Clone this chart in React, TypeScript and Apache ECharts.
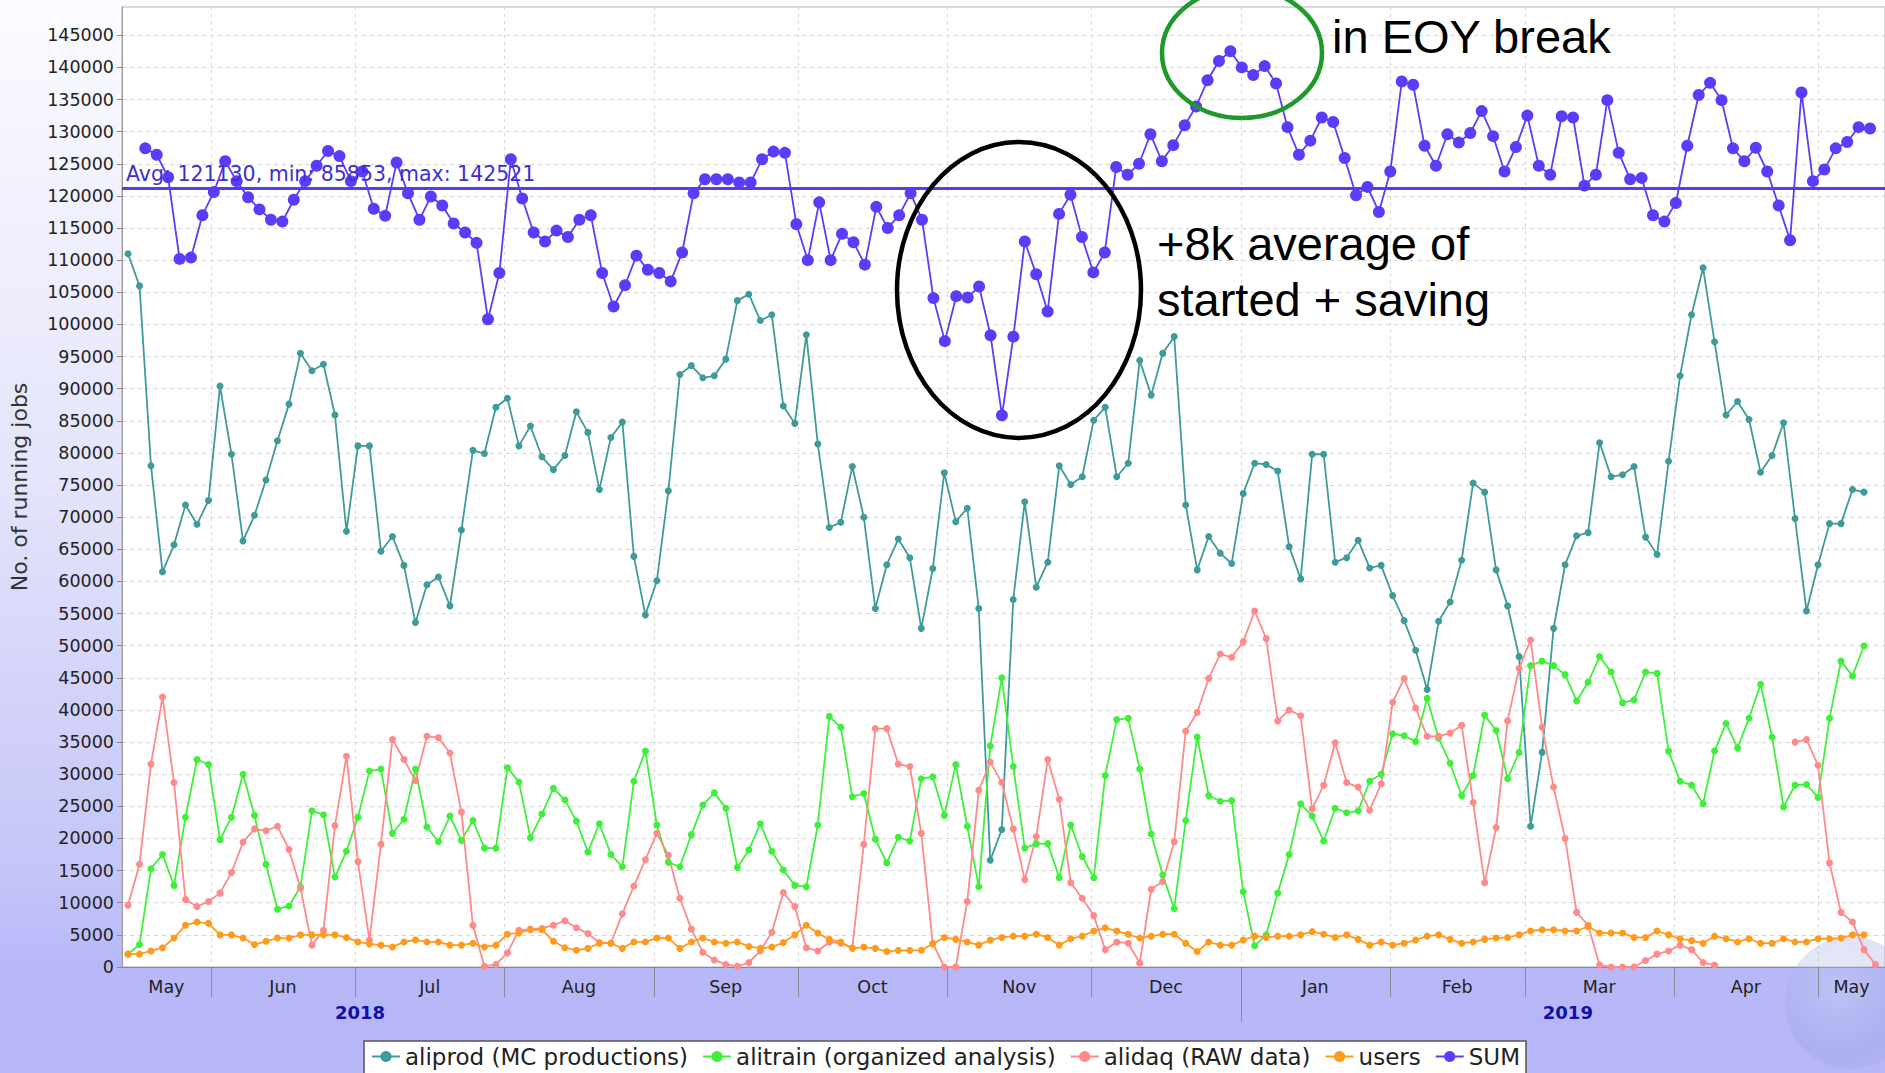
import React, { useEffect, useRef } from "react";
import * as echarts from "echarts";

// ---------- time layout ----------
const DAY = 86400000;
const JUN1 = Date.UTC(2018, 5, 1);
const X_MIN = JUN1 - 18.45 * DAY;
const X_MAX = JUN1 + 347.9 * DAY;
const SERIES_START = JUN1 - 17.2 * DAY;
const SERIES_STEP = 2.389 * DAY;
const SUM_START = JUN1 - 13.61 * DAY;
const SUM_STEP = 2.3735 * DAY;

// ---------- axis / tick labels ----------
const Y_MAX = 149400;
const Y_STEP = 5000;
const MONTH_LABELS = ["May", "Jun", "Jul", "Aug", "Sep", "Oct", "Nov", "Dec", "Jan", "Feb", "Mar", "Apr", "May"];
const MONTH_STARTS = [
  Date.UTC(2018, 5, 1), Date.UTC(2018, 6, 1), Date.UTC(2018, 7, 1), Date.UTC(2018, 8, 1),
  Date.UTC(2018, 9, 1), Date.UTC(2018, 10, 1), Date.UTC(2018, 11, 1), Date.UTC(2019, 0, 1),
  Date.UTC(2019, 1, 1), Date.UTC(2019, 2, 1), Date.UTC(2019, 3, 1), Date.UTC(2019, 4, 1),
];
const YEAR_LABELS = ["2018", "2019"];
const YEAR_LABEL_DATES = [Date.UTC(2018, 6, 2), Date.UTC(2019, 2, 10)];
const YEAR_START = Date.UTC(2019, 0, 1);

// ---------- series values ----------
const ALIPROD = [
  111000, 106000, 78000, 61500, 65700, 71900, 68900, 72600, 90400, 79800,
  66300, 70300, 75800, 81900, 87600, 95500, 92800, 93800, 85900, 67800,
  81100, 81100, 64700, 67000, 62500, 53600, 59500, 60700, 56200, 68000,
  80400, 79900, 87100, 88500, 81100, 84200, 79400, 77400, 79600, 86400,
  83200, 74300, 82400, 84800, 63900, 54800, 60100, 74100, 92200, 93600,
  91700, 92000, 94600, 103700, 104700, 100600, 101500, 87300, 84600, 98400,
  81400, 68400, 69200, 77900, 70000, 55800, 62600, 66600, 63700, 52700,
  62000, 76900, 69300, 71400, 55800, 16600, 21400, 57200, 72400, 59100,
  63000, 78000, 75100, 76300, 85100, 87100, 76300, 78400, 94400, 89000,
  95500, 98100, 71900, 61800, 67000, 64400, 62800, 73700, 78400, 78200,
  77200, 65400, 60400, 79800, 79800, 63000, 63700, 66400, 62100, 62500,
  57800, 53900, 49300, 43200, 53800, 56800, 63300, 75300, 73900, 61800,
  56200, 48300, 21900, 33400, 52700, 62600, 67100, 67600, 81600, 76300,
  76600, 77900, 66900, 64200, 78700, 92000, 101500, 108800, 97300, 85900,
  88000, 85200, 77000, 79600, 84700, 69800, 55400, 62600, 69000, 69000,
  74300, 73900,
];
const ALITRAIN = [
  2000, 3500, 15300, 17500, 12700, 23300, 32300, 31500, 19800, 23300,
  30000, 23600, 16000, 9000, 9500, 12500, 24300, 23700, 14000, 18000,
  23300, 30500, 30800, 20800, 23000, 30800, 21800, 19500, 23500, 19700,
  22800, 18500, 18500, 31000, 28800, 20100, 23800, 27800, 26000, 22700,
  17900, 22300, 17500, 15600, 28900, 33600, 22100, 16300, 15600, 20600,
  25200, 27100, 24700, 15500, 18200, 22300, 18000, 15100, 12700, 12500,
  22100, 39000, 37300, 26500, 27000, 19900, 16200, 20200, 19600, 29300,
  29600, 23600, 31500, 21900, 12500, 34400, 45000, 31200, 18500, 19200,
  19200, 13900, 22100, 17200, 13900, 29800, 38500, 38700, 30800, 20700,
  14300, 9100, 22800, 35800, 26700, 25800, 25900, 11700, 3300, 5000,
  11500, 17500, 25400, 23500, 19600, 24700, 24000, 24300, 28900, 30000,
  36300, 36000, 35100, 41800, 35600, 31700, 26700, 29800, 39200, 36800,
  29300, 33400, 46900, 47600, 46900, 45500, 41400, 44300, 48300, 45900,
  41100, 41600, 45900, 45700, 33600, 28900, 28300, 25400, 33600, 37900,
  34100, 38700, 44000, 35800, 24900, 28300, 28400, 26400, 38700, 47600,
  45300, 50000,
];
const ALIDAQ = [
  9600, 16000, 31600, 42000, 28700, 10500, 9400, 10200, 11500, 14700,
  19400, 21500, 21200, 21900, 18300, 12300, 3400, 5700, 22000, 32800,
  16400, 4200, 19100, 35400, 32300, 29000, 35900, 35700, 33300, 24100,
  6500, 100, 400, 2200, 5700, 5900, 6000, 6500, 7200, 6100,
  5200, 3800, 3700, 8300, 12600, 16700, 20800, 17400, 10700, 5900,
  2300, 1100, 400, 100, 700, 2500, 5400, 11600, 9400, 3000,
  2500, 3900, 3700, 3000, 19100, 37100, 37100, 31600, 31200, 20800,
  3700, 0, 0, 10200, 27500, 31900, 28700, 21500, 13600, 20300,
  32300, 26100, 13100, 10700, 8000, 2700, 3900, 3700, 600, 12100,
  13300, 19500, 36700, 39600, 44900, 48700, 48200, 50600, 55400, 51100,
  38300, 40000, 39100, 24600, 28300, 34900, 28700, 28000, 24400, 28500,
  41200, 44900, 40300, 35900, 35900, 36400, 37600, 25600, 13100, 21700,
  38300, 46500, 50900, 37300, 28000, 20000, 8500, 6500, 300, 0,
  0, 0, 1000, 2000, 2500, 3400, 2700, 700, 300, null,
  null, null, null, null, null, 35000, 35400, 31400, 16200, 8500,
  7000, 2700, 400,
];
const USERS = [
  2000, 2000, 2500, 3000, 4500, 6500, 7000, 6800, 5000, 5000,
  4500, 3500, 4000, 4500, 4500, 5000, 5000, 5000, 5000, 4600,
  3900, 3600, 3400, 3100, 3900, 4200, 3900, 3900, 3400, 3400,
  3700, 3100, 3400, 5100, 5300, 5800, 5800, 4000, 3000, 2600,
  2900, 3700, 3700, 2900, 3900, 3900, 4500, 4500, 2900, 3900,
  4500, 3900, 3700, 3900, 3200, 2900, 3100, 3800, 5000, 6500,
  5300, 4300, 3900, 2900, 3100, 2900, 2400, 2600, 2600, 2600,
  3600, 4600, 4300, 3900, 3400, 4200, 4600, 4800, 4800, 5100,
  4600, 3400, 4400, 4800, 5600, 6100, 5600, 5100, 4500, 4800,
  5100, 5100, 3700, 2400, 3900, 3400, 3400, 4200, 4800, 4600,
  4800, 4800, 5000, 5500, 5100, 4600, 5000, 4300, 3400, 3900,
  3400, 3700, 4200, 4800, 5000, 4300, 3700, 3900, 4300, 4500,
  4600, 5000, 5600, 5800, 5800, 5600, 5600, 6300, 5300, 5300,
  5300, 4600, 4600, 5600, 5000, 4400, 4100, 3700, 4800, 4400,
  3900, 4400, 3700, 3700, 4400, 3900, 3900, 4400, 4400, 4500,
  5000, 5000,
];
const SUM = [
  127400, 126400, 122900, 110200, 110400, 117000, 120600, 125400, 122300, 119800,
  117900, 116300, 116000, 119400, 122300, 124700, 127000, 126200, 122300, 123800,
  118000, 116900, 125200, 120400, 116300, 119900, 118500, 115700, 114300, 112700,
  100800, 108000, 125700, 119600, 114300, 112900, 114600, 113600, 116300, 117000,
  108000, 102800, 106100, 110700, 108500, 108000, 106700, 111200, 120400, 122600,
  122600, 122600, 122100, 122100, 125700, 126900, 126700, 115600, 110000, 119000,
  110000, 114100, 112800, 109300, 118300, 115000, 117000, 120400, 116300, 104100,
  97400, 104400, 104200, 105900, 98300, 85853, 98100, 112900, 107800, 102000,
  117200, 120200, 113600, 108100, 111200, 124500, 123300, 125000, 129600, 125400,
  127900, 131000, 133900, 138000, 141000, 142521, 140000, 138800, 140200, 137500,
  130700, 126400, 128600, 132200, 131500, 125900, 120100, 121400, 117500, 123800,
  137800, 137300, 127800, 124700, 129600, 128300, 129800, 133200, 129300, 123800,
  127600, 132500, 124700, 123300, 132400, 132200, 121600, 123300, 134900, 126700,
  122600, 122800, 117000, 116000, 118900, 127800, 135700, 137600, 134900, 127400,
  125400, 127500, 123800, 118500, 113100, 136100, 122300, 124100, 127400, 128400,
  130700, 130500,
];
const SUM_AVG = 121130;

const SERIES_NAMES = ["aliprod (MC productions)", "alitrain (organized analysis)", "alidaq (RAW data)", "users", "SUM"];
const SERIES_COLORS = ["#3f9a9a", "#3ef03a", "#ff8a8a", "#ff9a1c", "#5a3cfa"];

const ANNOT_TEXT_1 = ["+8k average of", "started + saving"];
const ANNOT_TEXT_2 = "in EOY break";

function toPoints(values: (number | null)[], start: number, step: number) {
  return values.map((v, i) => [start + i * step, v === null ? "-" : v]);
}

export default function App() {
  const ref = useRef<HTMLDivElement>(null);

  useEffect(() => {
    if (!ref.current) return;
    const chart = echarts.init(ref.current, null, { renderer: "svg" });

    const sumMin = Math.min(...SUM);
    const sumMax = Math.max(...SUM);

    const mkSeries = (idx: number, values: (number | null)[], start: number, step: number, size: number, width: number, extra: any = {}) => ({
      name: SERIES_NAMES[idx],
      type: "line",
      data: toPoints(values, start, step),
      symbol: "circle",
      symbolSize: size,
      showSymbol: true,
      showAllSymbol: true,
      connectNulls: false,
      color: SERIES_COLORS[idx],
      lineStyle: { width, color: SERIES_COLORS[idx] },
      itemStyle: { color: SERIES_COLORS[idx] },
      emphasis: { disabled: true },
      animation: false,
      ...extra,
    });

    const option: any = {
      animation: false,
      backgroundColor: "transparent",
      grid: {
        left: 122, top: 7, right: -1, bottom: 106,
        show: true, backgroundColor: "#ffffff", borderColor: "#b0b0b0", borderWidth: 1,
      },
      xAxis: {
        type: "time", min: X_MIN, max: X_MAX,
        axisLabel: { show: false }, axisTick: { show: false }, splitLine: { show: false },
        axisLine: { show: true, lineStyle: { color: "#888", width: 1 } },
      },
      yAxis: {
        type: "value", min: 0, max: Y_MAX, interval: Y_STEP,
        name: "No. of running jobs", nameLocation: "middle", nameGap: 92,
        nameTextStyle: { fontSize: 22, color: "#333", fontFamily: "DejaVu Sans" },
        axisLine: { show: true, lineStyle: { color: "#999" } },
        axisTick: { show: true, length: 5, lineStyle: { color: "#888" } },
        axisLabel: {
          fontSize: 17.5, color: "#222", fontFamily: "DejaVu Sans", margin: 8, showMaxLabel: false,
          formatter: (v: number) => (v % Y_STEP === 0 ? String(v) : ""),
        },
        splitLine: { show: true, lineStyle: { color: "#d6d6d6", type: [4, 4], width: 1 } },
      },
      legend: {
        data: SERIES_NAMES, left: 364, top: 1041, orient: "horizontal",
        padding: [4, 6, 6, 7], itemGap: 14, itemWidth: 28, itemHeight: 14,
        backgroundColor: "#ffffff", borderColor: "#555", borderWidth: 1.5,
        textStyle: { fontSize: 23, fontFamily: "DejaVu Sans", color: "#222" },
      },
      series: [
        mkSeries(0, ALIPROD, SERIES_START, SERIES_STEP, 7, 1.8),
        mkSeries(1, ALITRAIN, SERIES_START, SERIES_STEP, 7, 1.8),
        mkSeries(2, ALIDAQ, SERIES_START, SERIES_STEP, 7, 1.8),
        mkSeries(3, USERS, SERIES_START, SERIES_STEP, 7, 1.8),
        mkSeries(4, SUM, SUM_START, SUM_STEP, 12, 1.8, {
          markLine: {
            silent: true, symbol: "none", animation: false,
            data: [{ yAxis: SUM_AVG }],
            lineStyle: { color: "#4f3ff0", width: 3, type: "solid" },
            label: {
              show: true, position: "insideStartTop", distance: 4,
              formatter: `Avg: ${SUM_AVG}, min: ${sumMin}, max: ${sumMax}`,
              color: "#3c30d0", fontSize: 20.5, fontFamily: "DejaVu Sans",
            },
            emphasis: { disabled: true },
          },
        }),
      ],
    };
    chart.setOption(option);

    const toX = (t: number) => chart.convertToPixel({ xAxisIndex: 0 }, t) as number;
    const toY = (v: number) => chart.convertToPixel({ yAxisIndex: 0 }, v) as number;
    const yTop = toY(Y_MAX);
    const yBot = toY(0);

    const els: any[] = [];
    // faint globe in the corner (drawn below the axis texts)
    els.push({
      type: "circle", silent: true, z: 3, shape: { cx: 1851, cy: 1003, r: 66 },
      style: {
        fill: new echarts.graphic.RadialGradient(0.4, 0.4, 0.7, [
          { offset: 0, color: "rgba(200,212,240,0.40)" },
          { offset: 0.7, color: "rgba(150,160,222,0.30)" },
          { offset: 1, color: "rgba(140,150,220,0.12)" },
        ]),
      },
    });
    // vertical grid lines + long ticks at month boundaries
    MONTH_STARTS.forEach((t) => {
      const x = Math.round(toX(t)) + 0.5;
      els.push({ type: "line", silent: true, z: 1, shape: { x1: x, y1: yTop, x2: x, y2: yBot }, style: { stroke: "#d6d6d6", lineWidth: 1, lineDash: [3, 4] } });
      const down = t === YEAR_START ? 55 : 30;
      els.push({ type: "line", silent: true, z: 4, shape: { x1: x, y1: yBot, x2: x, y2: yBot + down }, style: { stroke: "#8a8a9a", lineWidth: 1 } });
    });
    // month labels centred in their month
    const bounds = [X_MIN, ...MONTH_STARTS, X_MAX];
    MONTH_LABELS.forEach((m, i) => {
      const x = (toX(bounds[i]) + toX(bounds[i + 1])) / 2;
      els.push({ type: "text", silent: true, z: 25, x, y: yBot + 20, style: { text: m, fill: "#222", fontSize: 17.5, fontFamily: "DejaVu Sans", align: "center", verticalAlign: "middle" } });
    });
    YEAR_LABELS.forEach((yr, i) => {
      els.push({ type: "text", silent: true, z: 25, x: toX(YEAR_LABEL_DATES[i]), y: yBot + 45, style: { text: yr, fill: "#1010a8", fontSize: 18, fontWeight: "bold", fontFamily: "DejaVu Sans", align: "center", verticalAlign: "middle" } });
    });
    // annotations
    els.push({ type: "ellipse", silent: true, z: 20, shape: { cx: 1019, cy: 290, rx: 122, ry: 148 }, style: { fill: "none", stroke: "#000", lineWidth: 4.5 } });
    els.push({ type: "ellipse", silent: true, z: 20, shape: { cx: 1242, cy: 53, rx: 80, ry: 65 }, style: { fill: "none", stroke: "#1f9a2a", lineWidth: 4.5 } });
    ANNOT_TEXT_1.forEach((txt, i) => {
      els.push({ type: "text", silent: true, z: 20, x: 1157, y: 243 + i * 56, style: { text: txt, fill: "#000", fontSize: 47, fontFamily: "Liberation Sans, Arial, sans-serif", align: "left", verticalAlign: "middle" } });
    });
    els.push({ type: "text", silent: true, z: 20, x: 1332, y: 36, style: { text: ANNOT_TEXT_2, fill: "#000", fontSize: 47, fontFamily: "Liberation Sans, Arial, sans-serif", align: "left", verticalAlign: "middle" } });

    chart.setOption({ graphic: { elements: els } });

    return () => chart.dispose();
  }, []);

  return (
    <div
      ref={ref}
      style={{
        position: "fixed", left: 0, top: 0, width: 1885, height: 1073,
        background: "linear-gradient(180deg, #fbfbff 0%, #e4e4fb 45%, #c4c4f8 82%, #b8b8f8 90%, #b6b6f8 100%)",
      }}
    />
  );
}
